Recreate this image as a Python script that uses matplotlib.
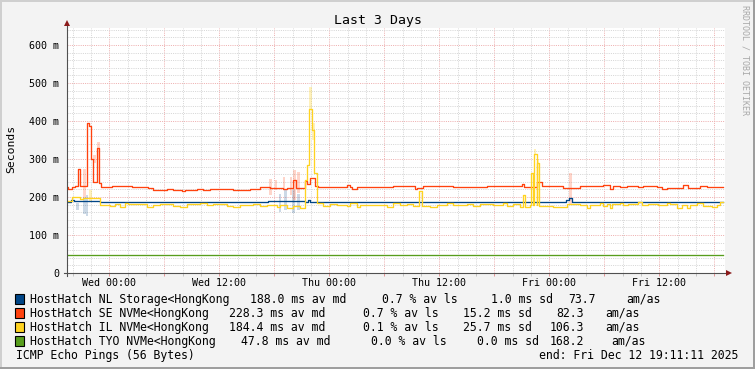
import matplotlib
matplotlib.use("Agg")
import matplotlib.pyplot as plt
from matplotlib.patches import Rectangle
import numpy as np

# ---------------- data (time in hours relative to Wed 00:00) ----------------
T_START = -4.61
T_END = 66.95

names = ["HostHatch NL Storage<HongKong", "HostHatch SE NVMe<HongKong",
         "HostHatch IL NVMe<HongKong", "HostHatch TYO NVMe<HongKong"]
colors = ["#004586", "#ff420e", "#ffd320", "#579d1c"]
med_txt = ["188.0 ms av md", "228.3 ms av md", "184.4 ms av md", "47.8 ms av md"]
loss_txt = ["0.7 % av ls", "0.7 % av ls", "0.1 % av ls", "0.0 % av ls"]
sd_txt = ["1.0 ms sd", "15.2 ms sd", "25.7 ms sd", "0.0 ms sd"]
amas_txt = ["73.7", "82.3", "106.3", "168.2"]

xtick_hours = [0, 6, 12, 18, 24, 30, 36, 42, 48, 54, 60, 66]
xtick_labels = ["Wed 00:00", "", "Wed 12:00", "", "Thu 00:00", "", "Thu 12:00", "",
                "Fri 00:00", "", "Fri 12:00", ""]
ytick_vals = [0, 100, 200, 300, 400, 500, 600]
ytick_labels = ["0", "100 m", "200 m", "300 m", "400 m", "500 m", "600 m"]

# NL (blue)
nl_t = [-4.61, -4.20, -3.80, -1.00, 17.30, 21.40, 21.65, 21.90, 49.82, 50.18, 50.44]
nl_v = [188, 191, 189, 187, 190, 188, 193, 188, 192, 196.5, 188]

# SE (red)
se_t = [-4.61, -4.46, -4.10, -3.74, -3.38, -3.20, -2.40, -2.18, -2.03, -1.81,
        -1.37, -1.09, -0.94, 0.26, 2.44, 4.22, 4.77, 6.29, 6.95, 7.93,
        8.26, 9.57, 10.22, 10.99, 12.08, 13.50, 15.35, 16.43, 17.53, 18.26,
        18.98, 19.35, 20.00, 20.33, 21.35, 21.60, 21.89, 22.44, 22.80, 25.90,
        26.26, 26.44, 26.99, 29.53, 30.98, 33.35, 33.60, 34.25, 37.53, 41.17,
        44.99, 45.24, 46.62, 47.17, 49.53, 51.35, 53.89, 54.62, 54.98, 55.71,
        56.44, 57.71, 58.25, 59.71, 60.26, 60.81, 62.62, 63.16, 64.44, 65.17]
se_v = [227, 222, 227, 229, 274, 229, 394, 388, 299, 240,
        328, 238, 226, 229, 227, 223, 218, 221, 218, 215,
        218, 221, 218, 222, 221, 218, 220, 227, 223, 225,
        220, 223, 245, 223, 242, 234, 250, 230, 227, 231,
        227, 220, 227, 226, 229, 220, 225, 230, 227, 229,
        233, 227, 240, 229, 224, 229, 231, 222, 229, 227,
        229, 226, 229, 226, 222, 224, 231, 225, 230, 227]

# IL (yellow)
il_t = [-4.61, -4.10, -3.20, -2.83, -1.01, 0.08, 0.62, 1.17, 1.71, 2.08,
        4.08, 4.80, 5.53, 6.98, 7.71, 8.44, 9.89, 10.62, 11.35, 12.80,
        13.53, 14.26, 15.71, 16.44, 17.17, 18.25, 18.62, 19.35, 20.08, 20.80,
        21.35, 21.53, 21.82, 22.11, 22.36, 22.66, 23.35, 24.08, 24.81, 25.90,
        26.26, 26.99, 27.35, 29.53, 30.26, 30.98, 31.71, 32.44, 33.17, 33.82,
        34.11, 34.98, 35.71, 36.80, 37.53, 38.98, 39.71, 40.44, 41.89, 42.98,
        43.35, 44.08, 44.80, 45.10, 45.31, 45.89, 46.00, 46.26, 46.33, 46.62,
        46.66, 46.91, 48.44, 49.89, 51.35, 52.07, 52.44, 53.53, 53.89, 54.25,
        54.62, 54.80, 55.71, 56.07, 56.62, 57.71, 58.07, 58.80, 59.89, 60.80,
        61.16, 61.89, 62.44, 62.98, 63.35, 64.07, 64.80, 65.71, 66.25, 66.62]
il_v = [190, 199, 194, 196.5, 179, 176, 181, 175, 184, 181,
        175, 179, 182, 176, 175, 181, 184, 179, 181, 176,
        175, 179, 182, 176, 179, 175, 179, 171, 176, 170,
        245, 284, 433, 376, 262, 183, 176, 181, 179, 176,
        185, 174, 179, 179, 175, 183, 179, 181.6, 177, 217,
        177, 175, 179, 183, 179, 181.6, 177, 180.5, 179, 185,
        177, 181.6, 175, 205, 175, 179, 262, 179, 313, 179,
        289, 177, 175, 180.5, 179, 172, 179, 185, 176, 181.6,
        172, 181.6, 185, 179, 181.6, 187, 179, 181.6, 179, 185,
        181.6, 172, 179, 170, 179, 183, 177, 175, 179, 188]

# TYO (green)
tyo_t = [-4.61, 66.95]
tyo_v = [47.8, 47.8]

# smoke (ping spread) bars: centre time, low, high
nl_smoke_t = [-3.47, -2.72, -2.42, 18.62, 19.25, 20.08, 20.62]
nl_smoke_lo = [166, 156, 150, 161, 166, 157, 166]
nl_smoke_hi = [183, 201, 205, 209, 218, 218, 209]

se_smoke_t = [-2.70, -1.60, -1.15, 17.58, 18.20, 19.05, 19.83, 20.22, 20.67, 50.30]
se_smoke_lo = [200, 290, 300, 205, 218, 218, 205, 192, 210, 182]
se_smoke_hi = [275, 310, 345, 247, 245, 253, 253, 271, 267, 262]

il_smoke_t = [-2.05, 21.95, 22.24, 46.45, 46.78]
il_smoke_lo = [188, 433, 350, 313, 289]
il_smoke_hi = [218, 490, 394, 326, 301]

# ---------------- drawing ----------------
plt.rcParams['font.family'] = ['DejaVu Sans Mono', 'DejaVu Sans']
W, H = 755, 369


def fx(px):
    return px / W


def fy(py):
    return 1 - py / H


fig = plt.figure(figsize=(W / 100, H / 100), dpi=100)
fig.patch.set_facecolor('#f3f3f3')

# 3D-ish frame
fig.add_artist(Rectangle((0, fy(2)), 1, 2 / H, transform=fig.transFigure, color='#cfcfcf', lw=0))
fig.add_artist(Rectangle((0, 0), 2 / W, 1, transform=fig.transFigure, color='#cfcfcf', lw=0))
fig.add_artist(Rectangle((0, 0), 1, 2 / H, transform=fig.transFigure, color='#9e9e9e', lw=0))
fig.add_artist(Rectangle((fx(753), 0), 2 / W, 1, transform=fig.transFigure, color='#9e9e9e', lw=0))

ax = fig.add_axes([fx(67), fy(273), 658 / W, 245 / H])
ax.set_facecolor('white')
ax.set_xlim(-4.61, 67.17)
ax.set_ylim(0, 645)
for s in ax.spines.values():
    s.set_visible(False)

ax.set_xticks(xtick_hours)
ax.set_xticklabels(xtick_labels)
ax.set_xticks(np.arange(-4, 67, 2), minor=True)
ax.set_yticks(ytick_vals)
ax.set_yticklabels(ytick_labels)
ax.set_yticks(np.arange(20, 645, 20), minor=True)

ax.grid(which='minor', color='#d6d6d6', linestyle=(0, (1, 1.2)), linewidth=0.72)
ax.grid(which='major', color='#eeb0b0', linestyle=(0, (1, 1.2)), linewidth=0.72)
ax.set_axisbelow(True)

ax.tick_params(axis='x', which='major', length=2.5, width=0.72, color='#e49a9a',
               labelsize=7.2, pad=1.0, direction='out')
ax.tick_params(axis='x', which='minor', length=1.8, width=0.72, color='#c4c4c4', direction='out')
ax.tick_params(axis='y', which='both', length=0, labelsize=7.2, pad=5.5)

# smoke
bw = 0.3
ax.bar(nl_smoke_t, np.array(nl_smoke_hi) - np.array(nl_smoke_lo), bottom=nl_smoke_lo,
       width=bw, color=colors[0], alpha=0.2, linewidth=0, zorder=2)
ax.bar(se_smoke_t, np.array(se_smoke_hi) - np.array(se_smoke_lo), bottom=se_smoke_lo,
       width=bw, color=colors[1], alpha=0.22, linewidth=0, zorder=2)
ax.bar(il_smoke_t, np.array(il_smoke_hi) - np.array(il_smoke_lo), bottom=il_smoke_lo,
       width=bw, color=colors[2], alpha=0.3, linewidth=0, zorder=2)


def stepline(t, v, c):
    tt = list(t) + [T_END]
    vv = list(v) + [v[-1]]
    ax.step(tt, vv, where='post', color=c, lw=0.95, zorder=3)


stepline(nl_t, nl_v, colors[0])
stepline(se_t, se_v, colors[1])
stepline(il_t, il_v, colors[2])
stepline(tyo_t, tyo_v, colors[3])

# axes lines with arrows
ax.plot([-0.005, 1.004], [0, 0], transform=ax.transAxes, color='#505050', lw=0.8, clip_on=False, zorder=5)
ax.plot([0, 0], [-0.012, 1.012], transform=ax.transAxes, color='#505050', lw=0.8, clip_on=False, zorder=5)
ax.plot([1.006], [0], marker='>', ms=4.5, color='#8b1a1a', mew=0, transform=ax.transAxes, clip_on=False, zorder=6)
ax.plot([0], [1.019], marker='^', ms=4.5, color='#8b1a1a', mew=0, transform=ax.transAxes, clip_on=False, zorder=6)

# texts
fig.text(fx(377.5), fy(24), 'Last 3 Days', ha='center', va='baseline', fontsize=9.5)
fig.text(fx(11), fy(149), 'Seconds', rotation=90, ha='center', va='center', fontsize=8.2)
fig.text(fx(745), fy(5), 'RRDTOOL / TOBI OETIKER', rotation=270, ha='center', va='top',
         fontsize=6, color='#a8a8a8')

# legend
row_base = [302.7, 316.7, 330.7, 344.7]
col_x = [
    [30, 249.7, 381.7, 491.0, 568.0, 626.0],
    [30, 228.7, 362.7, 462.7, 556.0, 605.7],
    [30, 228.7, 362.7, 462.7, 549.3, 605.7],
    [30, 240.7, 371.0, 477.0, 549.3, 611.7],
]
LFS = 8.3
for i in range(4):
    yb = row_base[i]
    fig.add_artist(Rectangle((fx(15), fy(yb + 0.8)), 9 / W, 9.5 / H, transform=fig.transFigure,
                             facecolor=colors[i], edgecolor='black', lw=0.8))
    pieces = [names[i], med_txt[i], loss_txt[i], sd_txt[i], amas_txt[i], "am/as"]
    for px, txt in zip(col_x[i], pieces):
        fig.text(fx(px), fy(yb), txt, ha='left', va='baseline', fontsize=LFS)

fig.text(fx(16), fy(358.7), 'ICMP Echo Pings (56 Bytes)', ha='left', va='baseline', fontsize=LFS)
fig.text(fx(738.5), fy(358.7), 'end: Fri Dec 12 19:11:11 2025', ha='right', va='baseline', fontsize=LFS)

fig.savefig('out.png', dpi=100, facecolor=fig.get_facecolor())
